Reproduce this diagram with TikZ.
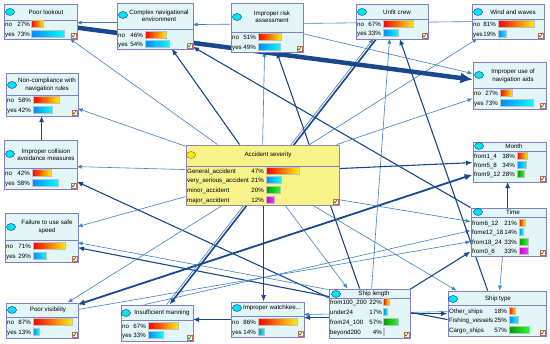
\documentclass[tikz,border=0pt]{standalone}
\usepackage{fontspec}
\setmainfont{Liberation Sans}
\usetikzlibrary{arrows.meta,calc,fit}
\pgfdeclarelayer{bg}
\pgfdeclarelayer{edges}
\pgfsetlayers{bg,edges,main}
\definecolor{bnfill}{HTML}{E2F5F7}
\definecolor{bnedge}{HTML}{7F7FC6}
\definecolor{asfill}{HTML}{F8F288}
\definecolor{asedge}{HTML}{8F8AA8}
\definecolor{thinblue}{HTML}{3F7FC8}
\definecolor{darkblue}{HTML}{17488E}
\definecolor{iconcyan}{HTML}{00E6EE}
\definecolor{chkred}{HTML}{D06060}
\tikzset{
  bnbox/.style={draw=bnedge, fill=bnfill, line width=0.8pt, inner sep=0pt},
  asbox/.style={draw=asedge, fill=asfill, line width=0.8pt, inner sep=0pt},
  divider/.style={draw=bnedge, line width=0.5pt},
  txt/.style={inner sep=0pt, font=\fontsize{6.2}{7.4}\selectfont},
  ttl/.style={txt, align=center},
  icon/.style={draw=blue!50!black, fill=iconcyan, line width=0.3pt},
  asicon/.style={draw=black!70, fill=yellow!90!orange, line width=0.3pt},
  chkbox/.style={draw=chkred, fill=yellow!10, line width=0.4pt},
  chkmark/.style={draw=green!55!black, line width=0.6pt},
  barA/.style={left color=red, right color=yellow!85!orange, draw=gray!50, line width=0.2pt},
  barB/.style={left color=blue!40!cyan!90!blue, right color=cyan, draw=gray!50, line width=0.2pt},
  barC/.style={left color=green!60!black, right color=green!85!white, draw=gray!50, line width=0.2pt},
  barD/.style={left color=magenta!80!black, right color=magenta!80!white, draw=gray!50, line width=0.2pt},
  thinedge/.style={draw=thinblue, line width=0.6pt, -{Latex[length=5pt,width=4pt]}},
  darkedge/.style={draw=darkblue, line width=1.1pt, -{Latex[length=6.5pt,width=5pt]}},
}
\newcommand\nw[3]{($(#1.north west)+(#2,#3)$)}
\newcommand\bnframe[7]{%
  \node[#7, fit={(#2,#3) (#4,#5)}] (#1) {};
  \draw[divider] (#2,#6) -- (#4,#6);
  \draw[chkbox] ({#4-6},{#5-6}) rectangle ++(5,5);
  \draw[chkmark] ({#4-5},{#5-3.5}) -- ({#4-4},{#5-2}) -- ({#4-2},{#5-5});
}
\newcommand\bnrow[4]{%
  \node[txt, anchor=base west] at (\rowlx,{#1+2.2}) {#2};
  \node[txt, anchor=base east] at (\rowpx,{#1+2.2}) {#3\%};
  \shadedraw[#4] (\rowbx,{#1-3.5}) rectangle ++({\rowbw*#3/100},7);
}
\newcommand\setrow[4]{\def\rowlx{#1}\def\rowpx{#2}\def\rowbx{#3}\def\rowbw{#4}}
\begin{document}
\begin{tikzpicture}[x=1pt,y=-1pt]
\useasboundingbox (0,0) rectangle (550,344);
\begin{pgfonlayer}{bg}
\fill[white] (0,0) rectangle (550,344);
\end{pgfonlayer}
% ---------- Poor lookout
\bnframe{pl}{4}{4}{77}{39}{20}{bnbox}
\draw[icon] (10,12) ellipse (4.5pt and 3.5pt);
\node[ttl] at (46,12) {Poor lookout};
\setrow{5}{30}{31}{45}
\bnrow{24}{no}{27}{barA}
\bnrow{34}{yes}{73}{barB}
% ---------- Complex navigational environment
\bnframe{cne}{117}{3}{193}{49}{29}{bnbox}
\draw[icon] (123,15) ellipse (4.5pt and 3.5pt);
\node[ttl] at (159,16) {Complex navigational\\environment};
\setrow{118}{143}{145}{45}
\bnrow{35}{no}{46}{barA}
\bnrow{44}{yes}{54}{barB}
% ---------- Improper risk assessment
\bnframe{ira}{231}{3}{303}{52}{32}{bnbox}
\draw[icon] (237,17) ellipse (4.5pt and 3.5pt);
\node[ttl] at (272,17) {Improper risk\\assessment};
\setrow{232}{256}{258}{45}
\bnrow{37}{no}{51}{barA}
\bnrow{47}{yes}{49}{barB}
% ---------- Unfit crew
\bnframe{uc}{356}{4}{428}{39}{19}{bnbox}
\draw[icon] (362,12) ellipse (4.5pt and 3.5pt);
\node[ttl] at (397,12) {Unfit crew};
\setrow{357}{381}{383}{45}
\bnrow{24}{no}{67}{barA}
\bnrow{33}{yes}{33}{barB}
% ---------- Wind and waves
\bnframe{ww}{472}{4}{544}{39}{19}{bnbox}
\draw[icon] (478,12) ellipse (4.5pt and 3.5pt);
\node[ttl] at (513,12) {Wind and waves};
\setrow{473}{496}{498}{45}
\bnrow{24}{no}{81}{barA}
\bnrow{34}{yes}{19}{barB}
% ---------- Improper use of navigation aids
\bnframe{iun}{473}{62}{546}{109}{88}{bnbox}
\draw[icon] (479,75) ellipse (4.5pt and 3.5pt);
\node[ttl] at (513,76) {Improper use of\\navigation aids};
\setrow{474}{498}{500}{45}
\bnrow{93}{no}{27}{barA}
\bnrow{103}{yes}{73}{barB}
% ---------- Non-compliance with navigation rules
\bnframe{ncr}{6}{73}{78}{116}{95}{bnbox}
\draw[icon] (12,85) ellipse (4.5pt and 3.5pt);
\node[ttl] at (47,85) {Non-compliance with\\navigation rules};
\setrow{7}{31}{33}{45}
\bnrow{100}{no}{58}{barA}
\bnrow{110}{yes}{42}{barB}
% ---------- Improper collision avoidance measures
\bnframe{icam}{4}{140}{77}{189}{168}{bnbox}
\draw[icon] (10,154) ellipse (4.5pt and 3.5pt);
\node[ttl] at (46,155) {Improper collision\\avoidance measures};
\setrow{5}{30}{32}{45}
\bnrow{173}{no}{42}{barA}
\bnrow{183}{yes}{58}{barB}
% ---------- Failure to use safe speed
\bnframe{fss}{5}{213}{78}{262}{240}{bnbox}
\draw[icon] (11,227) ellipse (4.5pt and 3.5pt);
\node[ttl] at (47,227) {Failure to use safe\\speed};
\setrow{6}{31}{33}{45}
\bnrow{246}{no}{71}{barA}
\bnrow{256}{yes}{29}{barB}
% ---------- Poor visibility
\bnframe{pv}{6}{303}{78}{338}{317}{bnbox}
\draw[icon] (12,310) ellipse (4.5pt and 3.5pt);
\node[ttl] at (48,310) {Poor visibility};
\setrow{7}{31}{33}{45}
\bnrow{322}{no}{87}{barA}
\bnrow{332}{yes}{13}{barB}
% ---------- Insufficient manning
\bnframe{im}{121}{305}{193}{341}{320}{bnbox}
\draw[icon] (126,313) ellipse (4.5pt and 3.5pt);
\node[ttl] at (162,313) {Insufficient manning};
\setrow{122}{146}{148}{45}
\bnrow{326}{no}{67}{barA}
\bnrow{335}{yes}{33}{barB}
% ---------- Improper watchkeeping
\bnframe{iw}{231}{302}{304}{337}{316}{bnbox}
\draw[icon] (237,308) ellipse (4.5pt and 3.5pt);
\node[ttl] at (272,308) {Improper watchkee...};
\setrow{232}{256}{258}{45}
\bnrow{322}{no}{86}{barA}
\bnrow{332}{yes}{14}{barB}
% ---------- Ship length
\bnframe{sl}{329}{289}{410}{338}{298}{bnbox}
\draw[icon] (336,294) ellipse (4.5pt and 3.5pt);
\node[ttl] at (374,294) {Ship length};
\setrow{330}{382}{383}{27}
\bnrow{302}{from100\_200}{22}{barA}
\bnrow{312}{under24}{17}{barB}
\bnrow{322}{from24\_100}{57}{barC}
\bnrow{332}{beyond200}{4}{barD}
% ---------- Ship type
\bnframe{st}{448}{291}{546}{336}{305}{bnbox}
\draw[icon] (453,299) ellipse (4.5pt and 3.5pt);
\node[ttl] at (498,299) {Ship type};
\setrow{449}{507}{509}{35}
\bnrow{311}{Other\_ships}{18}{barA}
\bnrow{320}{Fishing\_vessels}{25}{barB}
\bnrow{330}{Cargo\_ships}{57}{barC}
% ---------- Month
\bnframe{mo}{473}{142}{546}{182}{151}{bnbox}
\draw[icon] (479,146) ellipse (4.5pt and 3.5pt);
\node[ttl] at (514,146) {Month};
\setrow{474}{515}{517}{27}
\bnrow{156}{from1\_4}{38}{barA}
\bnrow{165}{from5\_8}{34}{barB}
\bnrow{174}{from9\_12}{28}{barC}
% ---------- Time
\bnframe{tm}{471}{208}{546}{256}{217}{bnbox}
\draw[icon] (478,212) ellipse (4.5pt and 3.5pt);
\node[ttl] at (513,212) {Time};
\setrow{472}{517}{519}{27}
\bnrow{223}{from6\_12}{21}{barA}
\bnrow{232}{fome12\_18}{14}{barB}
\bnrow{242}{from18\_24}{33}{barC}
\bnrow{251}{from0\_6}{33}{barD}
% ---------- Accident severity
\bnframe{as}{186}{145}{339}{205}{166}{asbox}
\draw[asicon] (191,155) ellipse (4.5pt and 3.5pt);
\node[ttl] at (268,155) {Accident severity};
\setrow{187}{264}{266}{70}
\bnrow{171}{General\_accident}{47}{barA}
\bnrow{180}{very\_serious\_accident}{21}{barB}
\bnrow{190}{minor\_accident}{20}{barC}
\bnrow{200}{major\_accident}{12}{barD}
% ---------- connectors
\begin{pgfonlayer}{edges}
\draw[thinedge] \nw{cne}{0}{20} -- \nw{pl}{73}{19};
\draw[thinedge] \nw{ww}{0}{18} -- \nw{cne}{76}{22};
\draw[darkedge] \nw{tm}{0}{0} -- \nw{cne}{76}{44};
\draw[darkedge] \nw{as}{54}{0} -- \nw{cne}{55}{46};
\draw[thinedge] \nw{as}{32}{0} -- \nw{pl}{66}{35};
\draw[thinedge] \nw{as}{1}{2} -- \nw{ncr}{72}{36};
\draw[darkedge] \nw{icam}{38}{0} -- \nw{ncr}{36}{43};
\draw[thinedge] \nw{as}{0}{25} -- \nw{icam}{73}{27};
\draw[darkedge] \nw{sl}{0}{9} -- \nw{icam}{73}{42};
\draw[thinedge] \nw{as}{0}{52} -- \nw{fss}{73}{14};
\draw[thinedge] \nw{sl}{0}{1} -- \nw{fss}{73}{30};
\draw[darkedge] \nw{st}{0}{29} -- \nw{fss}{73}{35};
\draw[thinedge] \nw{as}{38}{60} -- \nw{pv}{62}{0};
\draw[darkedge, line width=1.8pt, {Latex[length=7pt,width=6pt]}-{Latex[length=8pt,width=6.5pt]}] \nw{pv}{72}{2} -- \nw{mo}{0}{33};
\draw[thinedge] \nw{pv}{72}{7} -- \nw{tm}{0}{34};
\draw[thinedge] \nw{im}{24}{0} -- \nw{tm}{0}{23};
\draw[darkedge, line width=1.6pt] \nw{uc}{21}{35} -- \nw{im}{49}{0};
\draw[thinedge] \nw{im}{46}{0} -- \nw{uc}{18}{35};
\draw[darkedge] \nw{as}{78}{60} -- \nw{iw}{33}{0};
\draw[darkedge] \nw{iw}{0}{18} -- \nw{im}{72}{15};
\draw[darkedge] \nw{sl}{0}{29} -- \nw{iw}{73}{16};
\draw[thinedge] \nw{st}{0}{21} -- \nw{iw}{73}{13};
\draw[darkedge, line width=1.6pt] \nw{sl}{81}{25} -- \nw{st}{0}{23};
\draw[thinedge] \nw{as}{77}{0} -- \nw{ira}{34}{49};
\draw[darkedge] \nw{sl}{31}{0} -- \nw{ira}{46}{49};
\draw[thinedge] \nw{sl}{43}{0} -- \nw{uc}{34}{35};
\draw[darkedge] \nw{st}{40}{0} -- \nw{uc}{44}{35};
\draw[thinedge] \nw{ira}{72}{31} -- \nw{iun}{0}{12};
\draw[thinedge] \nw{as}{124}{0} -- \nw{ww}{6}{35};
\draw[thinedge] \nw{as}{151}{0} -- \nw{iun}{0}{37};
\draw[darkedge] \nw{as}{153}{24} -- \nw{mo}{0}{21};
\draw[thinedge] \nw{as}{153}{55} -- \nw{tm}{0}{14};
\draw[thinedge] \nw{as}{99}{60} -- \nw{sl}{19}{0};
\draw[thinedge] \nw{as}{126}{60} -- \nw{st}{9}{0};
\draw[darkedge] \nw{sl}{81}{1} -- \nw{tm}{0}{44};
\draw[thinedge] \nw{tm}{32}{48} -- \nw{st}{52}{0};
\draw[darkedge] \nw{tm}{37}{0} -- \nw{mo}{35}{40};
\draw[draw=darkblue, line width=4.5pt, -{Latex[length=12pt,width=11pt]}] \nw{pl}{73}{24} -- \nw{iun}{0}{18};
\end{pgfonlayer}
\end{tikzpicture}
\end{document}
